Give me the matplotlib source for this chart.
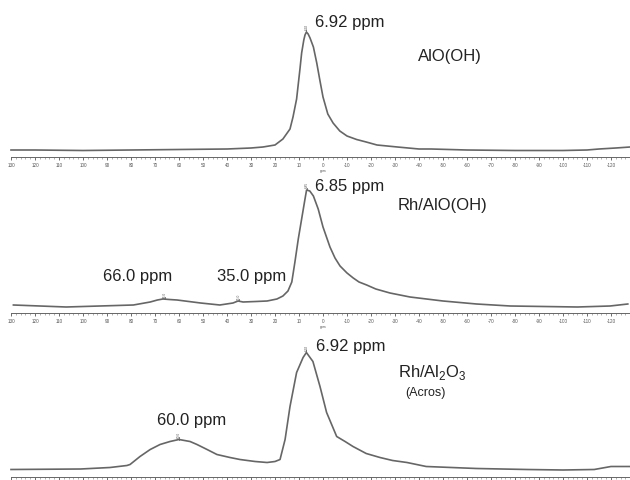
import matplotlib
matplotlib.use('Agg')
import matplotlib.pyplot as plt
from matplotlib.ticker import FixedLocator

plt.rcParams['font.family'] = ['Liberation Sans', 'DejaVu Sans']
plt.rcParams['mathtext.fontset'] = 'custom'
plt.rcParams['mathtext.rm'] = 'Liberation Sans'

# ---------------- data (chemical shift in ppm, intensity in arbitrary units) ----------------
ppm1 = [130, 120, 100, 80, 60, 40, 30, 25, 20, 16.7, 13.75, 12.5, 11, 9.6, 8.9, 8.0, 7.5, 6.92,
        6.2, 5.4, 4, 2.6, 1.25, 0, -2, -4.2, -7, -10, -14, -18, -22.5, -31, -40, -45, -60,
        -80, -100, -110, -115, -122, -128]
int1 = [7, 7, 6.5, 7, 7.5, 8, 9, 10, 12, 18, 28, 40, 58, 88, 104, 117, 122, 125,
        123, 119, 110, 94, 76, 60, 43, 34, 26, 21, 17.5, 15, 12, 10, 8, 8, 7,
        6.5, 6.5, 7, 8, 9, 10]

ppm2 = [129, 107, 79, 72, 69, 66.7, 64, 60.8, 51, 43, 37.5, 35.4, 33.3, 28, 23.3, 19.2, 16.7,
        14.6, 13, 11.7, 10.3, 8.9, 7.5, 6.85, 5.5, 4, 2, 0, -2.9, -5, -7.1, -10, -12.6, -15,
        -18.2, -22, -27.9, -36.25, -50, -64, -78, -106, -119.6, -127]
int2 = [8, 6, 8, 11, 13, 14, 13.5, 13, 10, 8, 10, 12, 11, 11.5, 12, 14, 17,
        22, 31, 51, 74, 94, 114, 123, 122, 117, 104, 86, 66, 55, 47, 40, 35, 31,
        28, 24, 20, 16, 12, 9, 7, 6, 7, 9]

ppm3 = [130, 101, 88.75, 81.7, 80.4, 76.25, 72, 67.9, 63.75, 60, 55.4, 52.5, 48.3, 44.2, 38.75,
        34.6, 28.3, 23.3, 20, 17.9, 15.8, 13.75, 11, 8.3, 6.92, 4.2, 1.25, -1.5, -5.7, -9.2,
        -12.5, -18, -23.75, -29, -35, -43, -64, -85, -100, -113, -120, -128]
int3 = [7, 7.5, 9, 11, 12, 20, 27, 32, 35, 37, 35, 32, 27, 22, 19,
        17, 15, 14, 15, 17, 37, 70, 104, 119, 124, 115, 90, 64, 40, 35,
        30, 23, 19, 16, 14, 10, 8, 7, 6.5, 7, 10, 10]

peaks1 = [(6.92, 125, '6.92')]
peaks2 = [(6.85, 123, '6.85'), (66.0, 14, '66.0'), (35.0, 12, '35.0')]
peaks3 = [(6.92, 124, '6.92'), (60.0, 37, '60.0')]

major_ticks = list(range(130, -121, -10))
major_labels = [str(t) for t in major_ticks]
minor_ticks = list(range(-128, 131, 2))

# ---------------- figure ----------------
W, H = 630, 481
fig = plt.figure(figsize=(W / 100, H / 100), dpi=100)
fig.patch.set_facecolor('white')


def fx(x):
    return x / W


def fy(y):
    return 1 - y / H


XL = (323 / 2.4, (323 - 630) / 2.4)
AX_H = 130
line_col = '#666666'

panels = [(ppm1, int1, peaks1, 158, True), (ppm2, int2, peaks2, 314, True),
          (ppm3, int3, peaks3, 477.5, False)]

for i, (pp, ii, pk, ay, show_labels) in enumerate(panels):
    ax = fig.add_axes([0, fy(ay), 1, AX_H / H])
    ax.set_xlim(*XL)
    ax.set_ylim(0, AX_H)
    ax.patch.set_alpha(0)
    ax.plot(pp, ii, color=line_col, lw=1.2, solid_joinstyle='round')
    for s in ['left', 'right', 'top']:
        ax.spines[s].set_visible(False)
    ax.spines['bottom'].set_bounds(130, -128)
    ax.spines['bottom'].set_color('#666666')
    ax.spines['bottom'].set_linewidth(0.7)
    ax.set_yticks([])
    ax.xaxis.set_major_locator(FixedLocator(major_ticks))
    if show_labels:
        ax.set_xticklabels(major_labels)
    else:
        ax.set_xticklabels([])
    ax.xaxis.set_minor_locator(FixedLocator(minor_ticks))
    ax.tick_params(axis='x', which='major', length=2.5, width=0.6, labelsize=3.3,
                   pad=1.2, colors='#555555', direction='out')
    ax.tick_params(axis='x', which='minor', length=1.4, width=0.4, colors='#777777')
    for (p, top, lab) in pk:
        ax.plot([p, p], [top, top + 2.5], color=line_col, lw=0.6, clip_on=False)
        ax.text(p, top + 2.5, lab, rotation=90, fontsize=2.3, ha='center', va='bottom',
                color='#555555', clip_on=False)

# "ppm" axis unit under 0
for ay in (158, 314):
    fig.text(fx(323), fy(ay + 13), 'ppm', fontsize=2.4, color='#555555', ha='center', va='center')

# ---------------- annotations ----------------
txt = dict(fontsize=12, color='#222222', ha='left', va='baseline')
fig.text(fx(315), fy(27.5), '6.92 ppm', **txt)
fig.text(fx(418), fy(61), 'AlO(OH)', **txt)

fig.text(fx(315), fy(191), '6.85 ppm', **txt)
fig.text(fx(398), fy(210), 'Rh/AlO(OH)', **txt)
fig.text(fx(103), fy(281), '66.0 ppm', **txt)
fig.text(fx(217), fy(281), '35.0 ppm', **txt)

fig.text(fx(316), fy(351.5), '6.92 ppm', **txt)
fig.text(fx(398), fy(377), r'Rh/Al$_\mathregular{2}$O$_\mathregular{3}$', **txt)
fig.text(fx(405), fy(396), '(Acros)', fontsize=9, color='#222222', ha='left', va='baseline')
fig.text(fx(157), fy(425), '60.0 ppm', **txt)

fig.savefig('out.png', dpi=100, facecolor='white')
